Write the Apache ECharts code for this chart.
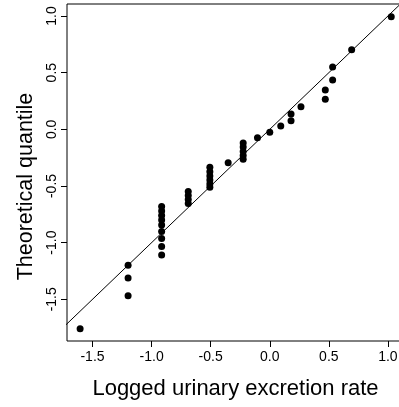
<!DOCTYPE html>
<html>
<head>
<meta charset="utf-8">
<script src="https://cdn.jsdelivr.net/npm/echarts@6/dist/echarts.min.js"></script>
<style>
html,body{margin:0;padding:0;background:#fff;}
#chart{width:399px;height:407px;}
</style>
</head>
<body>
<div id="chart"></div>
<script>
// Logged urinary excretion rate (x) vs theoretical quantile (y)
const obsX = [
  -1.605,
  -1.199, -1.199, -1.199,
  -0.915, -0.915, -0.915, -0.915, -0.915, -0.915, -0.915, -0.915, -0.915,
  -0.690, -0.690, -0.690, -0.690,
  -0.507, -0.507, -0.507, -0.507, -0.507, -0.507,
  -0.352,
  -0.225, -0.225, -0.225, -0.225, -0.225,
  -0.104,
  0.000,
  0.093,
  0.180, 0.180,
  0.264,
  0.470, 0.470,
  0.532, 0.532,
  0.693,
  1.028
];
const theoQ = [
  -1.760,
  -1.200, -1.312, -1.468,
  -0.681, -0.721, -0.761, -0.801, -0.845, -0.902, -0.964, -1.034, -1.109,
  -0.549, -0.584, -0.620, -0.655,
  -0.335, -0.374, -0.412, -0.447, -0.483, -0.512,
  -0.294,
  -0.121, -0.157, -0.196, -0.232, -0.263,
  -0.074,
  -0.026,
  0.029,
  0.076, 0.135,
  0.200,
  0.265, 0.347,
  0.435, 0.550,
  0.703,
  0.994
];
const xTicks = [-1.5, -1.0, -0.5, 0.0, 0.5, 1.0];
const yTicks = [-1.5, -1.0, -0.5, 0.0, 0.5, 1.0];
const refLineX = [-3, 3];
const refLineY = [-3, 3];
const xTitle = 'Logged urinary excretion rate';
const yTitle = 'Theoretical quantile';

const pts = obsX.map((x, i) => [x, theoQ[i]]);
const refPts = refLineX.map((x, i) => [x, refLineY[i]]);
const FONT = '"Liberation Sans", Arial, Helvetica, sans-serif';

const chart = echarts.init(document.getElementById('chart'), null, {renderer: 'canvas'});
chart.setOption({
  animation: false,
  backgroundColor: '#ffffff',
  grid: {
    left: 67, right: -5, top: 4, bottom: 66,
    show: true, borderColor: '#000', borderWidth: 1,
    containLabel: false, outerBoundsMode: 'none'
  },
  xAxis: {
    type: 'value', min: -1.716, max: 1.136,
    splitLine: {show: false},
    axisLine: {show: false, onZero: false},
    axisTick: {show: true, inside: false, length: 6, lineStyle: {color: '#000', width: 1}, customValues: xTicks},
    axisLabel: {show: true, customValues: xTicks, margin: 9, color: '#000', fontFamily: FONT, fontSize: 14,
      formatter: v => v.toFixed(1)},
    name: xTitle, nameLocation: 'middle', nameGap: 37,
    nameTextStyle: {color: '#000', fontFamily: FONT, fontSize: 22}
  },
  yAxis: {
    type: 'value', min: -1.868, max: 1.106,
    splitLine: {show: false},
    axisLine: {show: false, onZero: false},
    axisTick: {show: true, inside: false, length: 6, lineStyle: {color: '#000', width: 1}, customValues: yTicks},
    axisLabel: {show: true, customValues: yTicks, rotate: 90, margin: 8, color: '#000', fontFamily: FONT, fontSize: 14,
      formatter: v => v.toFixed(1)},
    name: yTitle, nameLocation: 'middle', nameGap: 21, nameRotate: 90,
    nameTextStyle: {color: '#000', fontFamily: FONT, fontSize: 21.5, padding: [0, 28, 0, 0]}
  },
  series: [
    {
      type: 'line', data: refPts, showSymbol: false, symbol: 'none', clip: true,
      lineStyle: {color: '#000', width: 1}, silent: true, z: 2
    },
    {
      type: 'scatter', data: pts, symbol: 'circle', symbolSize: 7,
      itemStyle: {color: '#000', opacity: 1}, z: 3
    }
  ]
});
</script>
</body>
</html>
